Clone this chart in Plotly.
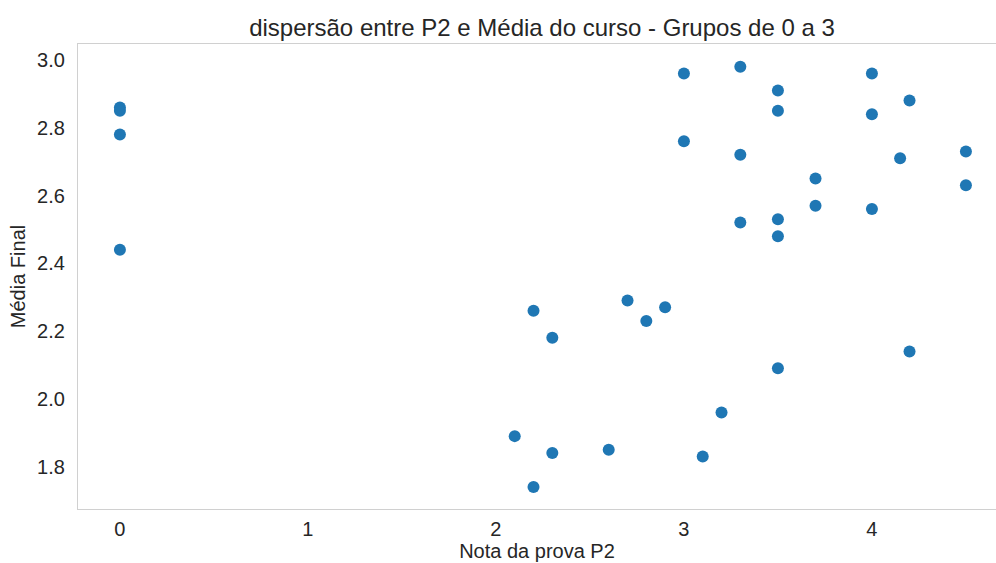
import plotly.graph_objects as go

# Notas da prova P2 e média final de cada aluno (grupos de 0 a 3)
nota_p2 = [
    0, 0, 0, 0,
    3.0, 3.3, 3.5, 3.5, 4.0, 4.2, 4.0, 3.0, 3.3, 4.15, 4.5, 3.7, 4.5, 3.7,
    4.0, 3.5, 3.3, 3.5,
    2.7, 2.2, 2.9, 2.8, 2.3, 4.2, 3.5, 3.2, 2.1, 2.6, 2.3, 3.1, 2.2,
]
media_final = [
    2.86, 2.85, 2.78, 2.44,
    2.96, 2.98, 2.91, 2.85, 2.96, 2.88, 2.84, 2.76, 2.72, 2.71, 2.73, 2.65, 2.63, 2.57,
    2.56, 2.53, 2.52, 2.48,
    2.29, 2.26, 2.27, 2.23, 2.18, 2.14, 2.09, 1.96, 1.89, 1.85, 1.84, 1.83, 1.74,
]

x_ticks = [0, 1, 2, 3, 4]
y_ticks = [1.8, 2.0, 2.2, 2.4, 2.6, 2.8, 3.0]

FONT = "Liberation Sans, Arial, sans-serif"
TEXT = "#262626"
SPINE = "#d0d0d0"

fig = go.Figure(
    go.Scatter(
        x=nota_p2,
        y=media_final,
        mode="markers",
        marker=dict(color="#1f77b4", size=12, line=dict(width=0)),
        showlegend=False,
    )
)

fig.update_layout(
    width=996,
    height=563,
    margin=dict(l=78, r=0, t=44, b=54),
    paper_bgcolor="white",
    plot_bgcolor="white",
    font=dict(family=FONT, color=TEXT),
    title=dict(
        text="dispersão entre P2 e Média do curso - Grupos de 0 a 3",
        x=542 / 996,
        xanchor="center",
        y=1 - 28 / 563,
        yanchor="middle",
        font=dict(size=24, family=FONT, color=TEXT),
    ),
)

fig.update_xaxes(
    range=[-0.223, 4.66],
    tickvals=x_ticks,
    ticktext=[str(v) for v in x_ticks],
    showgrid=False,
    zeroline=False,
    showline=True,
    mirror=True,
    linecolor=SPINE,
    linewidth=1.2,
    ticks="",
    ticklabelstandoff=2,
    tickfont=dict(size=20, family=FONT, color=TEXT),
    title=dict(text="Nota da prova P2", font=dict(size=20, family=FONT, color=TEXT), standoff=4),
)

fig.update_yaxes(
    range=[1.675, 3.047],
    tickvals=y_ticks,
    ticktext=[f"{v:.1f}" for v in y_ticks],
    showgrid=False,
    zeroline=False,
    showline=True,
    mirror=False,
    linecolor=SPINE,
    linewidth=1.2,
    ticks="",
    ticklabelstandoff=8,
    tickfont=dict(size=20, family=FONT, color=TEXT),
    title=dict(text="Média Final", font=dict(size=20, family=FONT, color=TEXT), standoff=6),
)

fig.write_html("out.html")
